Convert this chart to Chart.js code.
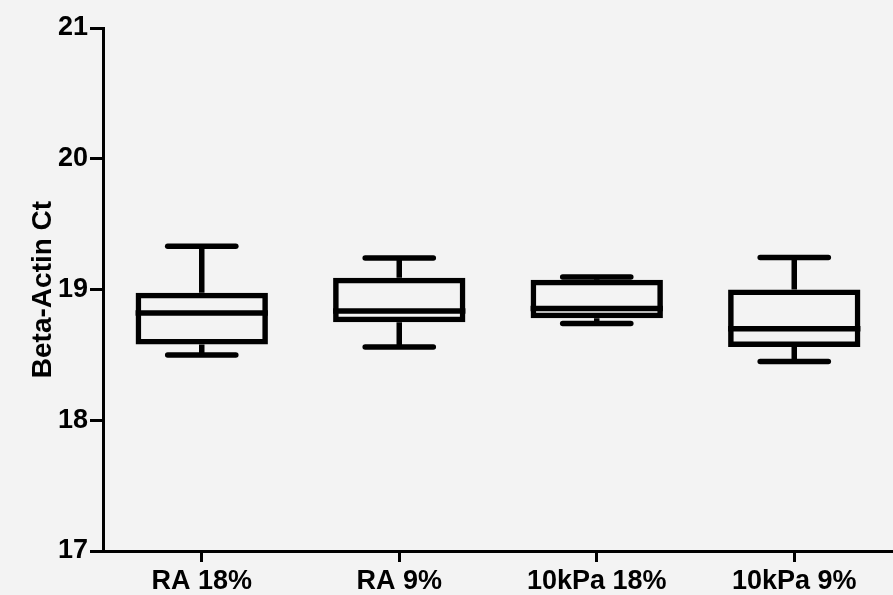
<!DOCTYPE html>
<html>
<head>
<meta charset="utf-8">
<script src="https://cdn.jsdelivr.net/npm/chart.js@4.4.1/dist/chart.umd.min.js"></script>
<style>
html, body { margin: 0; padding: 0; background: #f3f3f3; }
#wrap { width: 893px; height: 595px; }
</style>
</head>
<body>
<div id="wrap"><canvas id="box-chart"></canvas></div>
<script>
"use strict";
// box plot values
const groups = ["RA 18%", "RA 9%", "10kPa 18%", "10kPa 9%"];
const whiskerLow = [18.50, 18.56, 18.74, 18.45];
const quartileLow = [18.58, 18.75, 18.78, 18.56];
const medians = [18.82, 18.835, 18.855, 18.70];
const quartileHigh = [18.975, 19.09, 19.075, 19.00];
const whiskerHigh = [19.33, 19.24, 19.095, 19.245];
const yTicks = [17, 18, 19, 20, 21];

const labelFont = { family: "'Liberation Sans', Arial, sans-serif", size: 27, weight: "bold" };

// median, whisker stems and caps drawn on top of the floating bars
const whiskerPlugin = {
    id: "whiskers",
    afterDatasetsDraw(chart) {
        const { ctx, scales: { x, y } } = chart;
        const boxes = chart.getDatasetMeta(0).data;
        ctx.save();
        ctx.strokeStyle = "#000";
        groups.forEach((g, i) => {
            const cx = x.getPixelForValue(i);
            const half = boxes[i].width / 2;
            const capHalf = half * 0.515;
            ctx.lineCap = "butt";
            ctx.lineWidth = 5.5;
            ctx.beginPath();
            ctx.moveTo(cx - half, y.getPixelForValue(medians[i]));
            ctx.lineTo(cx + half, y.getPixelForValue(medians[i]));
            ctx.stroke();
            ctx.beginPath();
            ctx.moveTo(cx, y.getPixelForValue(quartileHigh[i]));
            ctx.lineTo(cx, y.getPixelForValue(whiskerHigh[i]));
            ctx.moveTo(cx, y.getPixelForValue(quartileLow[i]));
            ctx.lineTo(cx, y.getPixelForValue(whiskerLow[i]));
            ctx.stroke();
            ctx.lineCap = "round";
            ctx.lineWidth = 5.5;
            [whiskerHigh[i], whiskerLow[i]].forEach(v => {
                ctx.beginPath();
                ctx.moveTo(cx - capHalf, y.getPixelForValue(v));
                ctx.lineTo(cx + capHalf, y.getPixelForValue(v));
                ctx.stroke();
            });
        });
        ctx.restore();
    }
};

const ctx = document.getElementById("box-chart");
new Chart(ctx, {
    type: "bar",
    data: {
        labels: groups,
        datasets: [{
            data: groups.map((g, i) => [quartileLow[i], quartileHigh[i]]),
            backgroundColor: "rgba(0,0,0,0)",
            borderColor: "#000",
            borderWidth: 5.5,
            borderSkipped: false,
            barPercentage: 0.67,
            categoryPercentage: 1
        }]
    },
    options: {
        responsive: true,
        maintainAspectRatio: false,
        animation: false,
        layout: { padding: { top: 28, left: 0, right: 0, bottom: 0 } },
        plugins: {
            legend: { display: false },
            tooltip: { enabled: false }
        },
        scales: {
            x: {
                offset: true,
                grid: { display: true, drawOnChartArea: false, offset: false, tickLength: 11, color: "#000", lineWidth: 3 },
                border: { display: true, color: "#000", width: 3 },
                ticks: { color: "#000", font: labelFont, padding: 3, maxRotation: 0, autoSkip: false },
                afterFit: (scale) => { scale.height = 44; }
            },
            y: {
                min: 17,
                max: 21,
                afterBuildTicks: (scale) => { scale.ticks = yTicks.map(v => ({ value: v })); },
                grid: { display: true, drawOnChartArea: false, tickLength: 13, color: "#000", lineWidth: 3 },
                border: { display: true, color: "#000", width: 3 },
                ticks: { color: "#000", font: labelFont, padding: 2 },
                title: {
                    display: true,
                    text: "Beta-Actin Ct",
                    color: "#000",
                    font: { family: "'Liberation Sans', Arial, sans-serif", size: 28, weight: "bold" },
                    padding: { top: 26, bottom: 0 }
                },
                afterFit: (scale) => { scale.width = 103; }
            }
        }
    },
    plugins: [whiskerPlugin]
});
</script>
</body>
</html>
